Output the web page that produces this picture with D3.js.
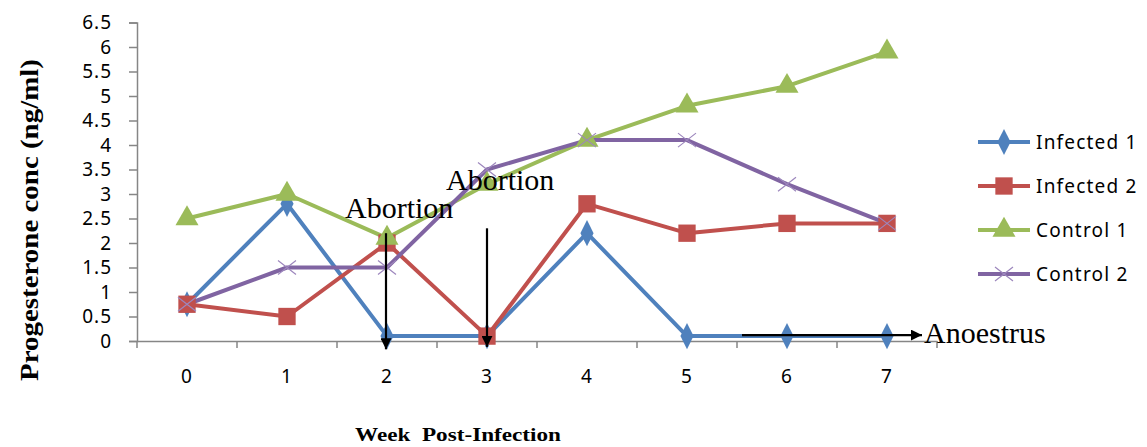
<!DOCTYPE html>
<html>
<head>
<meta charset="utf-8">
<script src="https://cdn.jsdelivr.net/npm/d3@7"></script>
<style>
  body { margin: 0; background: #fff; }
  .tick text { font-family: "Noto Sans", sans-serif; font-size: 19px; fill: #000; letter-spacing: 1px; }
</style>
</head>
<body>
<script>
var width = 1147,
    height = 447;

// data
var weeks = ["0", "1", "2", "3", "4", "5", "6", "7"];
var seriesNames = ["Infected 1", "Infected 2", "Control 1", "Control 2"];
var infected1 = [0.75, 2.8, 0.1, 0.1, 2.2, 0.1, 0.1, 0.1];
var infected2 = [0.75, 0.5, 2.0, 0.1, 2.8, 2.2, 2.4, 2.4];
var control1 = [2.5, 3.0, 2.1, 3.2, 4.1, 4.8, 5.2, 5.9];
var control2 = [0.75, 1.5, 1.5, 3.5, 4.1, 4.1, 3.2, 2.4];
var yTicks = [0, 0.5, 1, 1.5, 2, 2.5, 3, 3.5, 4, 4.5, 5, 5.5, 6, 6.5];

var colors = ["#4F81BD", "#C0504D", "#9BBB59", "#8064A2"];
var symbols = [d3.symbolDiamond, d3.symbolSquare, d3.symbolTriangle, d3.symbolCross];
var allSeries = [infected1, infected2, control1, control2];

var svg = d3.select("body").append("svg").attr("width", width).attr("height", height);

var x = d3.scaleBand().domain(weeks).range([137, 937]);
var y = d3.scaleLinear().domain([0, 6.5]).range([341, 22.5]);
var cx = function(i){ return x(weeks[i]) + x.bandwidth() / 2; };

// y axis
var yAxis = svg.append("g").attr("transform", "translate(137,0)")
    .call(d3.axisLeft(y).tickValues(yTicks).tickSize(8).tickPadding(17).tickFormat(function(d){ return d; }));
yAxis.select(".domain").attr("stroke", "#868686").attr("stroke-width", 1.5);
yAxis.selectAll(".tick line").attr("stroke", "#868686").attr("stroke-width", 1.5);

// x axis
var xAxis = svg.append("g").attr("transform", "translate(0,341)")
    .call(d3.axisBottom(x).tickSize(0).tickPadding(29));
xAxis.select(".domain").attr("stroke", "#868686").attr("stroke-width", 1.5);
xAxis.selectAll(".tick line").remove();
// ticks between categories
xAxis.selectAll(".sep").data(d3.range(weeks.length + 1)).enter().append("line")
    .attr("x1", function(i){ return 137 + i * x.step(); })
    .attr("x2", function(i){ return 137 + i * x.step(); })
    .attr("y1", 0).attr("y2", 7)
    .attr("stroke", "#868686").attr("stroke-width", 1.5);

// lines
var line = d3.line().x(function(d, i){ return cx(i); }).y(function(d){ return y(d); });

allSeries.forEach(function(vals, s){
  svg.append("path").datum(vals)
      .attr("d", line)
      .attr("fill", "none")
      .attr("stroke", colors[s])
      .attr("stroke-width", 4)
      .attr("stroke-linejoin", "round");
});

function drawMarker(g, s, px, py){
  if (s == 3) {
    g.append("path")
        .attr("d", "M" + (px - 9) + "," + (py - 7) + "L" + (px + 9) + "," + (py + 7) + "M" + (px - 9) + "," + (py + 7) + "L" + (px + 9) + "," + (py - 7))
        .attr("stroke", "#9d87bd").attr("stroke-width", 1.2).attr("fill", "none");
  } else {
    var sizes = [150, 300, 230];
    g.append("path")
        .attr("d", d3.symbol().type(symbols[s]).size(sizes[s])())
        .attr("transform", "translate(" + px + "," + py + ")" + (s == 0 ? " scale(1,1.15)" : ""))
        .attr("fill", colors[s]);
  }
}

allSeries.forEach(function(vals, s){
  var g = svg.append("g");
  vals.forEach(function(v, i){ drawMarker(g, s, cx(i), y(v)); });
});

// annotations
svg.append("defs").append("marker")
    .attr("id", "arrow").attr("viewBox", "0 0 10 10")
    .attr("refX", 10).attr("refY", 5)
    .attr("markerWidth", 5).attr("markerHeight", 5)
    .attr("markerUnits", "strokeWidth")
    .attr("orient", "auto")
  .append("path").attr("d", "M0,0L10,5L0,10Z").attr("fill", "#000");

var arrows = [
  [cx(2) - 1, y(2.2), cx(2) - 1, y(-0.17)],
  [cx(3), y(2.3), cx(3), y(-0.12)],
  [x("5") + x.step() * 1.05, y(0.12), x("7") + x.step() * 0.85, y(0.12)]
];
svg.selectAll(".arrow").data(arrows).enter().append("line")
    .attr("x1", function(d){ return d[0]; }).attr("y1", function(d){ return d[1]; })
    .attr("x2", function(d){ return d[2]; }).attr("y2", function(d){ return d[3]; })
    .attr("stroke", "#000").attr("stroke-width", 2.2)
    .attr("marker-end", "url(#arrow)");

var notes = [
  ["Abortion", 345, 218],
  ["Abortion", 446, 190],
  ["Anoestrus", 924, 343]
];
svg.selectAll(".note").data(notes).enter().append("text")
    .attr("x", function(d){ return d[1]; }).attr("y", function(d){ return d[2]; })
    .attr("font-family", "Liberation Serif, Times New Roman, serif")
    .attr("font-size", 30)
    .text(function(d){ return d[0]; });

// axis titles
svg.append("text")
    .attr("transform", "translate(38,220) rotate(-90)")
    .attr("text-anchor", "middle")
    .attr("font-family", "Liberation Serif, Times New Roman, serif")
    .attr("font-weight", "bold").attr("font-size", 25)
    .attr("textLength", 322).attr("lengthAdjust", "spacingAndGlyphs")
    .text("Progesterone conc (ng/ml)");

svg.append("text")
    .attr("x", 458).attr("y", 441)
    .attr("text-anchor", "middle")
    .attr("font-family", "Liberation Serif, Times New Roman, serif")
    .attr("font-weight", "bold").attr("font-size", 19)
    .attr("textLength", 206).attr("lengthAdjust", "spacingAndGlyphs")
    .attr("xml:space", "preserve")
    .text("Week  Post-Infection");

// legend
var legend = svg.append("g");
seriesNames.forEach(function(name, s){
  var ly = 142 + s * 44;
  legend.append("line")
      .attr("x1", 978).attr("x2", 1030).attr("y1", ly).attr("y2", ly)
      .attr("stroke", colors[s]).attr("stroke-width", 4);
  drawMarker(legend, s, 1004, ly);
  legend.append("text")
      .attr("x", 1036).attr("y", ly + 7)
      .attr("font-family", "Noto Sans, sans-serif")
      .attr("font-size", 19).attr("letter-spacing", 1.2)
      .text(name);
});
</script>
</body>
</html>
